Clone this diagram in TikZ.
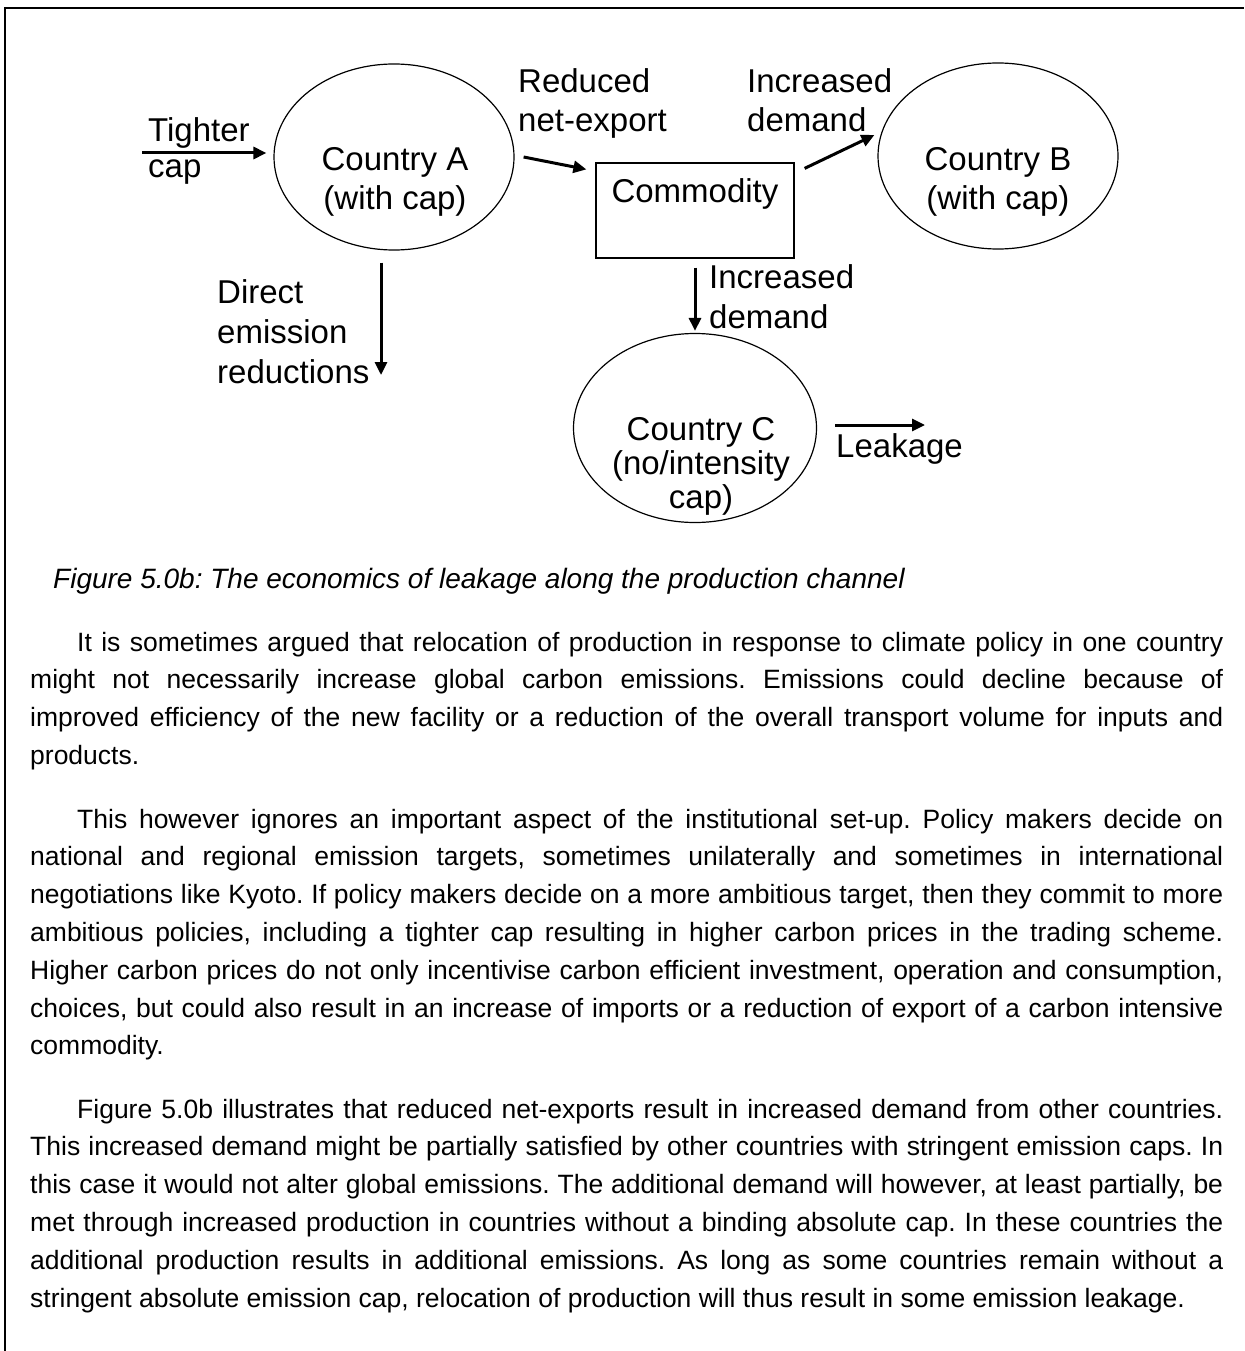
\documentclass[tikz,border=0pt]{standalone}
\usepackage{fontspec}
\setmainfont{Liberation Sans}
\usetikzlibrary{shapes.geometric,arrows.meta}
\tolerance=9999
\hyphenpenalty=10000
\frenchspacing

\tikzset{
  country/.style={draw, ellipse, line width=1.2pt, inner sep=0pt, minimum width=240pt, minimum height=186pt},
  lbl/.style={inner sep=0pt, font=\fontsize{33}{39}\selectfont},
  goods/.style={draw, line width=1.2pt, inner sep=0pt, font=\fontsize{33}{39}\selectfont},
  flow/.style={line width=3pt, -{Triangle[length=13pt,width=12pt]}},
  para/.style={inner sep=0pt, anchor=base west, text width=1193pt, align=justify, font=\fontsize{26.5}{37.8}\selectfont}
}

\begin{document}
\begin{tikzpicture}[x=1pt,y=-1pt]
\useasboundingbox (0,0) rectangle (1244,1351);
\draw[line width=2.2pt] (5,1351) -- (5,8) -- (1244,8);

\node[country] (ca) at (394,157) {};
\node[country] (cb) at (998,156) {};
\node[country, minimum width=243pt, minimum height=189pt] (cc) at (695,428) {};
\node[goods, anchor=base, text height=39pt, text depth=56pt, minimum width=198pt] (com) at (695,202) {Commodity};

\node[lbl, align=center, anchor=base] (catext) at (395,209) {Country A\\(with cap)};
\node[lbl, align=center, anchor=base] (cbtext) at (998,209) {Country B\\(with cap)};
\node[lbl, align=center, anchor=base, font=\fontsize{33}{34}\selectfont] (cctext) at (701,508) {Country C\\(no/intensity\\cap)};

\node[lbl, align=left, anchor=base west, font=\fontsize{33}{36}\selectfont] (tight) at (148,178) {Tighter\\cap};
\node[lbl, align=left, anchor=base west] (rednx) at (518,132) {Reduced\\net-export};
\node[lbl, align=left, anchor=base west] (incb) at (747,132) {Increased\\demand};
\node[lbl, align=left, anchor=base west, font=\fontsize{33}{40}\selectfont] (incc) at (709,328) {Increased\\demand};
\node[lbl, align=left, anchor=base west, font=\fontsize{33}{40}\selectfont] (direct) at (217,383) {Direct\\emission\\reductions};
\node[lbl, anchor=base west] (leak) at (836,457) {Leakage};

\coordinate (capin) at (142,153);
\coordinate (dirend) at (381,375);
\coordinate (leakend) at (925,425);

\draw[flow, shorten >=7pt] (capin) -- (capin -| ca.west);
\draw[flow] ([shift={(9,0)}]ca.east) -- ([shift={(-9,7)}]com.north west);
\draw[flow] ([shift={(10,6)}]com.north east) -- ([shift={(-3,-21)}]cb.west);
\draw[flow, shorten <=9pt, shorten >=2pt] (com.south) -- (com.south |- cc.north);
\draw[flow, shorten <=12pt] (dirend |- ca.south) -- (dirend);
\draw[flow, shorten <=18pt] (leakend -| cc.east) -- (leakend);

\node[anchor=base west, inner sep=0pt, font=\itshape\fontsize{28}{34}\selectfont] (figcap) at (53,588)
  {Figure 5.0b: The economics of leakage along the production channel};

\node[para] (parone) at (30,651) {\hspace*{47pt}It is sometimes argued that relocation of production in response to climate policy in one country\linebreak
might not necessarily increase global carbon emissions. Emissions could decline because of\linebreak
improved efficiency of the new facility or a reduction of the overall transport volume for inputs and\linebreak
products.};

\node[para] (partwo) at (30,828) {\hspace*{47pt}This however ignores an important aspect of the institutional set-up. Policy makers decide on\linebreak
national and regional emission targets, sometimes unilaterally and sometimes in international\linebreak
negotiations like Kyoto. If policy makers decide on a more ambitious target, then they commit to more\linebreak
ambitious policies, including a tighter cap resulting in higher carbon prices in the trading scheme.\linebreak
Higher carbon prices do not only incentivise carbon efficient investment, operation and consumption,\linebreak
choices, but could also result in an increase of imports or a reduction of export of a carbon intensive\linebreak
commodity.};

\node[para] (parthree) at (30,1118) {\hspace*{47pt}Figure 5.0b illustrates that reduced net-exports result in increased demand from other countries.\linebreak
This increased demand might be partially satisfied by other countries with stringent emission caps. In\linebreak
this case it would not alter global emissions. The additional demand will however, at least partially, be\linebreak
met through increased production in countries without a binding absolute cap. In these countries the\linebreak
additional production results in additional emissions. As long as some countries remain without a\linebreak
stringent absolute emission cap, relocation of production will thus result in some emission leakage.};
\end{tikzpicture}
\end{document}
